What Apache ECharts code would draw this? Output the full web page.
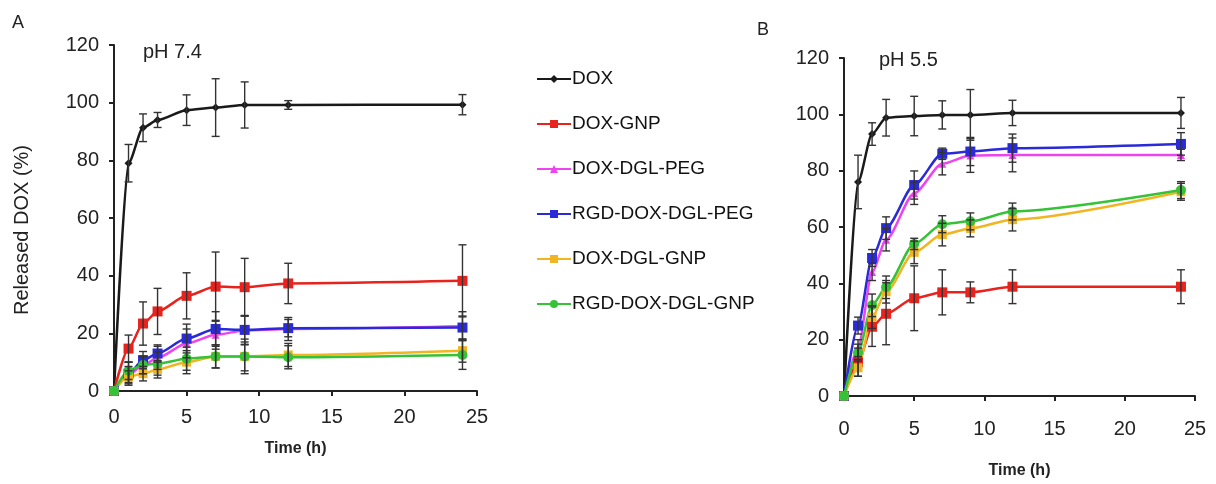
<!DOCTYPE html>
<html>
<head>
<meta charset="utf-8">
<script src="https://cdn.jsdelivr.net/npm/echarts@6/dist/echarts.min.js"></script>
<style>
html,body{margin:0;padding:0;background:#fff;}
#chart{width:1216px;height:484px;}
</style>
</head>
<body>
<div id="chart"></div>
<script>
// ---- data ----
const time = [0, 1, 2, 3, 5, 7, 9, 12, 24];
const seriesNames = ['DOX', 'DOX-GNP', 'DOX-DGL-PEG', 'RGD-DOX-DGL-PEG', 'DOX-DGL-GNP', 'RGD-DOX-DGL-GNP'];
const xTicks = [0, 5, 10, 15, 20, 25];
const yTicks = [0, 20, 40, 60, 80, 100, 120];

// pH 7.4 (panel A)
const a_DOX        = [0, 79, 91.3, 94, 97.4, 98.3, 99.2, 99.2, 99.3];
const a_DOX_GNP    = [0, 14.7, 23.4, 27.6, 33, 36.2, 36, 37.3, 38.2];
const a_DGL_PEG    = [0, 5.5, 9, 11.5, 16.5, 19.5, 21, 21.5, 22.5];
const a_RGD_PEG    = [0, 6, 10.7, 13, 18.2, 21.5, 21.2, 21.8, 22];
const a_DGL_GNP    = [0, 5, 6, 7.5, 10, 12, 12, 12.5, 14];
const a_RGD_GNP    = [0, 7, 9, 9.5, 11.2, 12, 12, 11.7, 12.5];
const a_err_DOX     = [0, 6.5, 4.8, 2.6, 5.3, 10, 8, 1.5, 3.5];
const a_err_DOX_GNP = [0, 4.7, 7.5, 8, 8, 12, 10, 7, 12.5];
const a_err_DGL_PEG = [0, 3, 3, 4, 5, 5, 5, 4, 5];
const a_err_RGD_PEG = [0, 4, 3, 3, 5, 6, 5, 3, 4];
const a_err_DGL_GNP = [0, 2, 2.5, 3, 4, 4, 5, 4, 4];
const a_err_RGD_GNP = [0, 3, 3, 4, 4, 4, 6, 4, 5];

// pH 5.5 (panel B)
const b_DOX        = [0, 76, 93, 98.8, 99.4, 99.8, 99.8, 100.5, 100.5];
const b_DOX_GNP    = [0, 12, 24.6, 29.2, 34.7, 36.8, 36.8, 38.8, 38.8];
const b_DGL_PEG    = [0, 17, 44, 55.5, 72, 82.5, 85.4, 85.6, 85.6];
const b_RGD_PEG    = [0, 25, 49, 59.6, 74.9, 86, 86.8, 88, 89.5];
const b_DGL_GNP    = [0, 10, 28, 37, 51, 57.3, 59.5, 62.6, 72.5];
const b_RGD_GNP    = [0, 15.4, 32.2, 38.6, 54, 61, 62, 65.5, 73.1];
const b_err_DOX     = [0, 9.5, 4, 6.5, 7, 5, 9, 4.5, 5.5];
const b_err_DOX_GNP = [0, 5, 7, 11, 11.5, 8, 3.7, 6, 6];
const b_err_DGL_PEG = [0, 3, 3, 4, 4, 4, 6, 6, 2];
const b_err_RGD_PEG = [0, 3, 3, 4, 5, 2, 5, 5, 4];
const b_err_DGL_GNP = [0, 3, 4, 4, 4, 4, 3, 4, 3];
const b_err_RGD_GNP = [0, 3, 4, 4, 2, 3, 3, 3, 3];

const panelA = [a_DOX, a_DOX_GNP, a_DGL_PEG, a_RGD_PEG, a_DGL_GNP, a_RGD_GNP];
const panelAErr = [a_err_DOX, a_err_DOX_GNP, a_err_DGL_PEG, a_err_RGD_PEG, a_err_DGL_GNP, a_err_RGD_GNP];
const panelB = [b_DOX, b_DOX_GNP, b_DGL_PEG, b_RGD_PEG, b_DGL_GNP, b_RGD_GNP];
const panelBErr = [b_err_DOX, b_err_DOX_GNP, b_err_DGL_PEG, b_err_RGD_PEG, b_err_DGL_GNP, b_err_RGD_GNP];

// ---- styles ----
const colors = ['#1a1a1a', '#e8221c', '#ee44ee', '#2a2ad8', '#f2b522', '#36c236'];
const symbols = ['diamond', 'rect', 'triangle', 'rect', 'rect', 'circle'];
const symbolSizes = [8, 10, 8, 10, 9, 10];
const FONT = '"Liberation Sans", Arial, sans-serif';

const chart = echarts.init(document.getElementById('chart'), null, {renderer: 'canvas'});

function errRender(params, api) {
  const x = api.value(0);
  const lo = api.coord([x, api.value(1)]);
  const hi = api.coord([x, api.value(2)]);
  const cap = 4;
  const st = {stroke: '#333', lineWidth: 1.4};
  return {
    type: 'group',
    children: [
      {type: 'line', shape: {x1: lo[0], y1: lo[1], x2: hi[0], y2: hi[1]}, style: st},
      {type: 'line', shape: {x1: lo[0] - cap, y1: lo[1], x2: lo[0] + cap, y2: lo[1]}, style: st},
      {type: 'line', shape: {x1: hi[0] - cap, y1: hi[1], x2: hi[0] + cap, y2: hi[1]}, style: st}
    ]
  };
}

const series = [];
[[panelA, panelAErr], [panelB, panelBErr]].forEach(([vals, errs], p) => {
  vals.forEach((arr, i) => {
    const ed = [];
    time.forEach((t, k) => { if (errs[i][k] > 0) ed.push([t, arr[k] - errs[i][k], arr[k] + errs[i][k]]); });
    series.push({
      name: seriesNames[i] + '_err', type: 'custom', xAxisIndex: p, yAxisIndex: p,
      renderItem: errRender, data: ed, z: 4, silent: true
    });
  });
  vals.forEach((arr, i) => {
    series.push({
      name: seriesNames[i], type: 'line', xAxisIndex: p, yAxisIndex: p,
      data: time.map((t, k) => [t, arr[k]]),
      smooth: 0.25, smoothMonotone: 'x',
      symbol: symbols[i], symbolSize: symbolSizes[i],
      lineStyle: {color: colors[i], width: 2.5},
      itemStyle: {color: colors[i]},
      z: 3
    });
  });
});

function xAxisCfg(grid, nameGap, margin) {
  return {
    type: 'value', gridIndex: grid, min: 0, max: 25, interval: 5,
    name: 'Time (h)', nameLocation: 'middle', nameGap: nameGap,
    nameTextStyle: {fontFamily: FONT, fontSize: 16, fontWeight: 'bold', color: '#222'},
    axisLine: {show: true, lineStyle: {color: '#222', width: 2}},
    axisTick: {show: true, inside: false, length: 5, lineStyle: {color: '#222', width: 2}},
    axisLabel: {fontFamily: FONT, fontSize: 20, color: '#222', margin: margin,
      formatter: v => xTicks.includes(v) ? String(v) : ''},
    splitLine: {show: false}
  };
}
function yAxisCfg(grid) {
  return {
    type: 'value', gridIndex: grid, min: 0, max: 120, interval: 20,
    axisLine: {show: true, lineStyle: {color: '#222', width: 2}},
    axisTick: {show: true, inside: false, length: 5, lineStyle: {color: '#222', width: 2}},
    axisLabel: {fontFamily: FONT, fontSize: 20, color: '#222', margin: 15,
      formatter: v => yTicks.includes(v) ? String(v) : ''},
    splitLine: {show: false}
  };
}

const option = {
  animation: false,
  backgroundColor: '#fff',
  grid: [
    {left: 114, top: 45, width: 363, height: 346},
    {left: 844, top: 58, width: 351, height: 342}
  ],
  xAxis: [xAxisCfg(0, 50, 16), xAxisCfg(1, 67, 23)],
  yAxis: [yAxisCfg(0), yAxisCfg(1)],
  legend: {
    orient: 'vertical', left: 531, top: 64,
    data: seriesNames,
    itemWidth: 34, itemHeight: 10, itemGap: 25,
    textStyle: {fontFamily: FONT, fontSize: 19, color: '#111', lineHeight: 20, padding: [0, 0, 0, -4]},
    selectedMode: false
  },
  graphic: [
    {type: 'text', left: 12, top: 14, style: {text: 'A', fontFamily: FONT, fontSize: 18, fill: '#222'}},
    {type: 'text', left: 757, top: 21, style: {text: 'B', fontFamily: FONT, fontSize: 18, fill: '#222'}},
    {type: 'text', left: 143, top: 42, style: {text: 'pH 7.4', fontFamily: FONT, fontSize: 20, fill: '#222'}},
    {type: 'text', left: 879, top: 50, style: {text: 'pH 5.5', fontFamily: FONT, fontSize: 20, fill: '#222'}},
    {type: 'text', x: 22, y: 230, rotation: Math.PI / 2,
      style: {text: 'Released DOX (%)', fontFamily: FONT, fontSize: 20, fill: '#222', align: 'center', verticalAlign: 'middle'}}
  ],
  series: series
};
chart.setOption(option);
</script>
</body>
</html>
